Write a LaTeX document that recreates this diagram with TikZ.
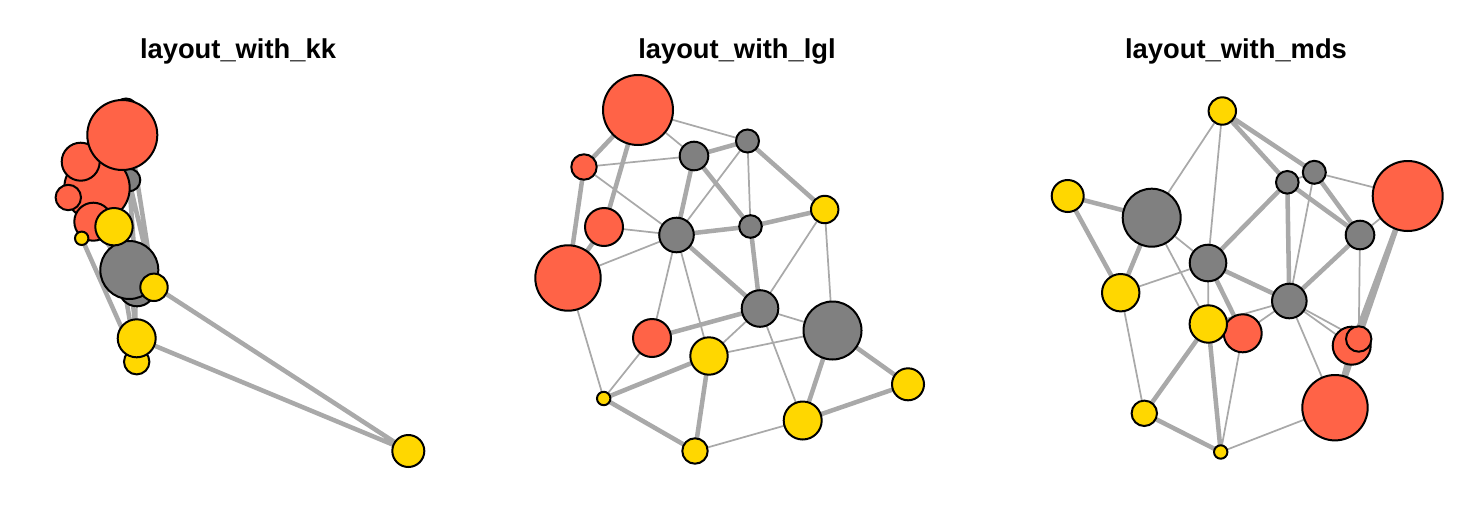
\documentclass[tikz,border=0pt]{standalone}
\usepackage{fontspec}
\setmainfont{Liberation Sans}
\pgfdeclarelayer{bg}
\pgfsetlayers{bg,main}
\definecolor{vred}{HTML}{FF6347}
\definecolor{vgray}{HTML}{808080}
\definecolor{vyel}{HTML}{FFD700}
\definecolor{ecol}{HTML}{A9A9A9}
\tikzset{
  vtx/.style={circle, draw=black, line width=1.5pt, inner sep=0pt, outer sep=0pt, minimum size=#1*1.5pt},
  rv/.style={vtx=#1, fill=vred},
  gv/.style={vtx=#1, fill=vgray},
  yv/.style={vtx=#1, fill=vyel},
  lightedge/.style={draw=ecol, line width=1.3pt},
  heavyedge/.style={draw=ecol, line width=3.4pt},
  ttl/.style={font=\bfseries\fontsize{20.5}{24}\selectfont, anchor=base, inner sep=0pt}
}
\newcommand\drawedges[1]{%
  \begin{pgfonlayer}{bg}
  \draw[heavyedge] (#1R1)--(#1R2) (#1R1)--(#1R3) (#1R2)--(#1R4) (#1R3)--(#1R4)
    (#1G1)--(#1G2) (#1G1)--(#1G3) (#1G1)--(#1G4) (#1G2)--(#1Y1) (#1G3)--(#1G4)
    (#1G3)--(#1G5) (#1G4)--(#1Y1) (#1G4)--(#1G5) (#1R5)--(#1G5) (#1G6)--(#1Y3)
    (#1G6)--(#1Y4) (#1Y3)--(#1Y4) (#1Y2)--(#1Y6) (#1Y2)--(#1Y5) (#1Y5)--(#1Y6);
  \draw[lightedge] (#1R1)--(#1G1) (#1R1)--(#1G2) (#1R2)--(#1G1) (#1R2)--(#1G3)
    (#1R3)--(#1G3) (#1R4)--(#1G3) (#1R4)--(#1Y5) (#1G2)--(#1G3) (#1G2)--(#1G4)
    (#1G3)--(#1R5) (#1G3)--(#1Y2) (#1Y1)--(#1G5) (#1Y1)--(#1G6) (#1R5)--(#1Y5)
    (#1G5)--(#1Y2) (#1G5)--(#1G6) (#1G5)--(#1Y4) (#1Y2)--(#1G6) (#1Y4)--(#1Y6);
  \end{pgfonlayer}}
\begin{document}
\begin{tikzpicture}[x=0.75pt,y=-0.75pt]
\useasboundingbox (0,0) rectangle (1476,514);
% titles
\node[ttl] (t1) at (238,58.3) {layout\_with\_kk};
\node[ttl] (t2) at (737,58.3) {layout\_with\_lgl};
\node[ttl] (t3) at (1236,58.3) {layout\_with\_mds};
% ---------- kk ----------
\node[gv=14.3] (kG1) at (108,160) {};
\node[gv=11.5] (kG2) at (126,110) {};
\node[gv=17.3] (kG3) at (95,195) {};
\node[gv=11.3] (kG4) at (129,180) {};
\node[gv=18.3] (kG5) at (137,288) {};
\node[gv=29] (kG6) at (129.3,270) {};
\node[rv=32.7] (kR4) at (97,188) {};
\node[rv=19] (kR3) at (80.7,161.7) {};
\node[rv=12.7] (kR2) at (68.3,197.5) {};
\node[rv=35] (kR1) at (122.3,135) {};
\node[rv=19] (kR5) at (93.3,221.7) {};
\node[yv=6.7] (kY5) at (81.7,238.3) {};
\node[yv=18.7] (kY2) at (114,226.7) {};
\node[yv=13.7] (kY1) at (154,287.3) {};
\node[yv=12.7] (kY6) at (136.7,361.7) {};
\node[yv=19] (kY4) at (136.7,338.3) {};
\node[yv=16] (kY3) at (408.3,451) {};
\drawedges{k}
% ---------- lgl ----------
\node[gv=14.3] (lG1) at (694,156) {};
\node[gv=11.5] (lG2) at (747.5,141) {};
\node[gv=17.3] (lG3) at (676.5,235) {};
\node[gv=11.3] (lG4) at (750.5,226.5) {};
\node[gv=18.3] (lG5) at (760,308.5) {};
\node[gv=29] (lG6) at (832.5,330.5) {};
\node[rv=32.7] (lR4) at (568,278) {};
\node[rv=19] (lR3) at (604,227) {};
\node[rv=12.7] (lR2) at (584,167) {};
\node[rv=35] (lR1) at (638,110) {};
\node[rv=19] (lR5) at (652,338) {};
\node[yv=6.7] (lY5) at (603.7,398.5) {};
\node[yv=18.7] (lY2) at (709,356) {};
\node[yv=13.7] (lY1) at (824.7,209.5) {};
\node[yv=12.7] (lY6) at (695,451) {};
\node[yv=19] (lY4) at (802.7,420.5) {};
\node[yv=16] (lY3) at (908,384.3) {};
\drawedges{l}
% ---------- mds ----------
\node[gv=14.3] (mG1) at (1360,235) {};
\node[gv=11.5] (mG2) at (1314.3,172.3) {};
\node[gv=17.3] (mG3) at (1289.3,301) {};
\node[gv=11.3] (mG4) at (1287.3,182.3) {};
\node[gv=18.3] (mG5) at (1208,263) {};
\node[gv=29] (mG6) at (1151.7,217.7) {};
\node[rv=32.7] (mR4) at (1335,407.7) {};
\node[rv=19] (mR3) at (1351.7,345.7) {};
\node[rv=12.7] (mR2) at (1358.7,339) {};
\node[rv=35] (mR1) at (1407.7,196) {};
\node[rv=19] (mR5) at (1242.7,333.3) {};
\node[yv=6.7] (mY5) at (1220.7,452) {};
\node[yv=18.7] (mY2) at (1208.3,324) {};
\node[yv=13.7] (mY1) at (1222.3,111) {};
\node[yv=12.7] (mY6) at (1144.3,413.3) {};
\node[yv=18.7] (mY4) at (1120.7,292.7) {};
\node[yv=16] (mY3) at (1067.7,196) {};
\drawedges{m}
\end{tikzpicture}
\end{document}
